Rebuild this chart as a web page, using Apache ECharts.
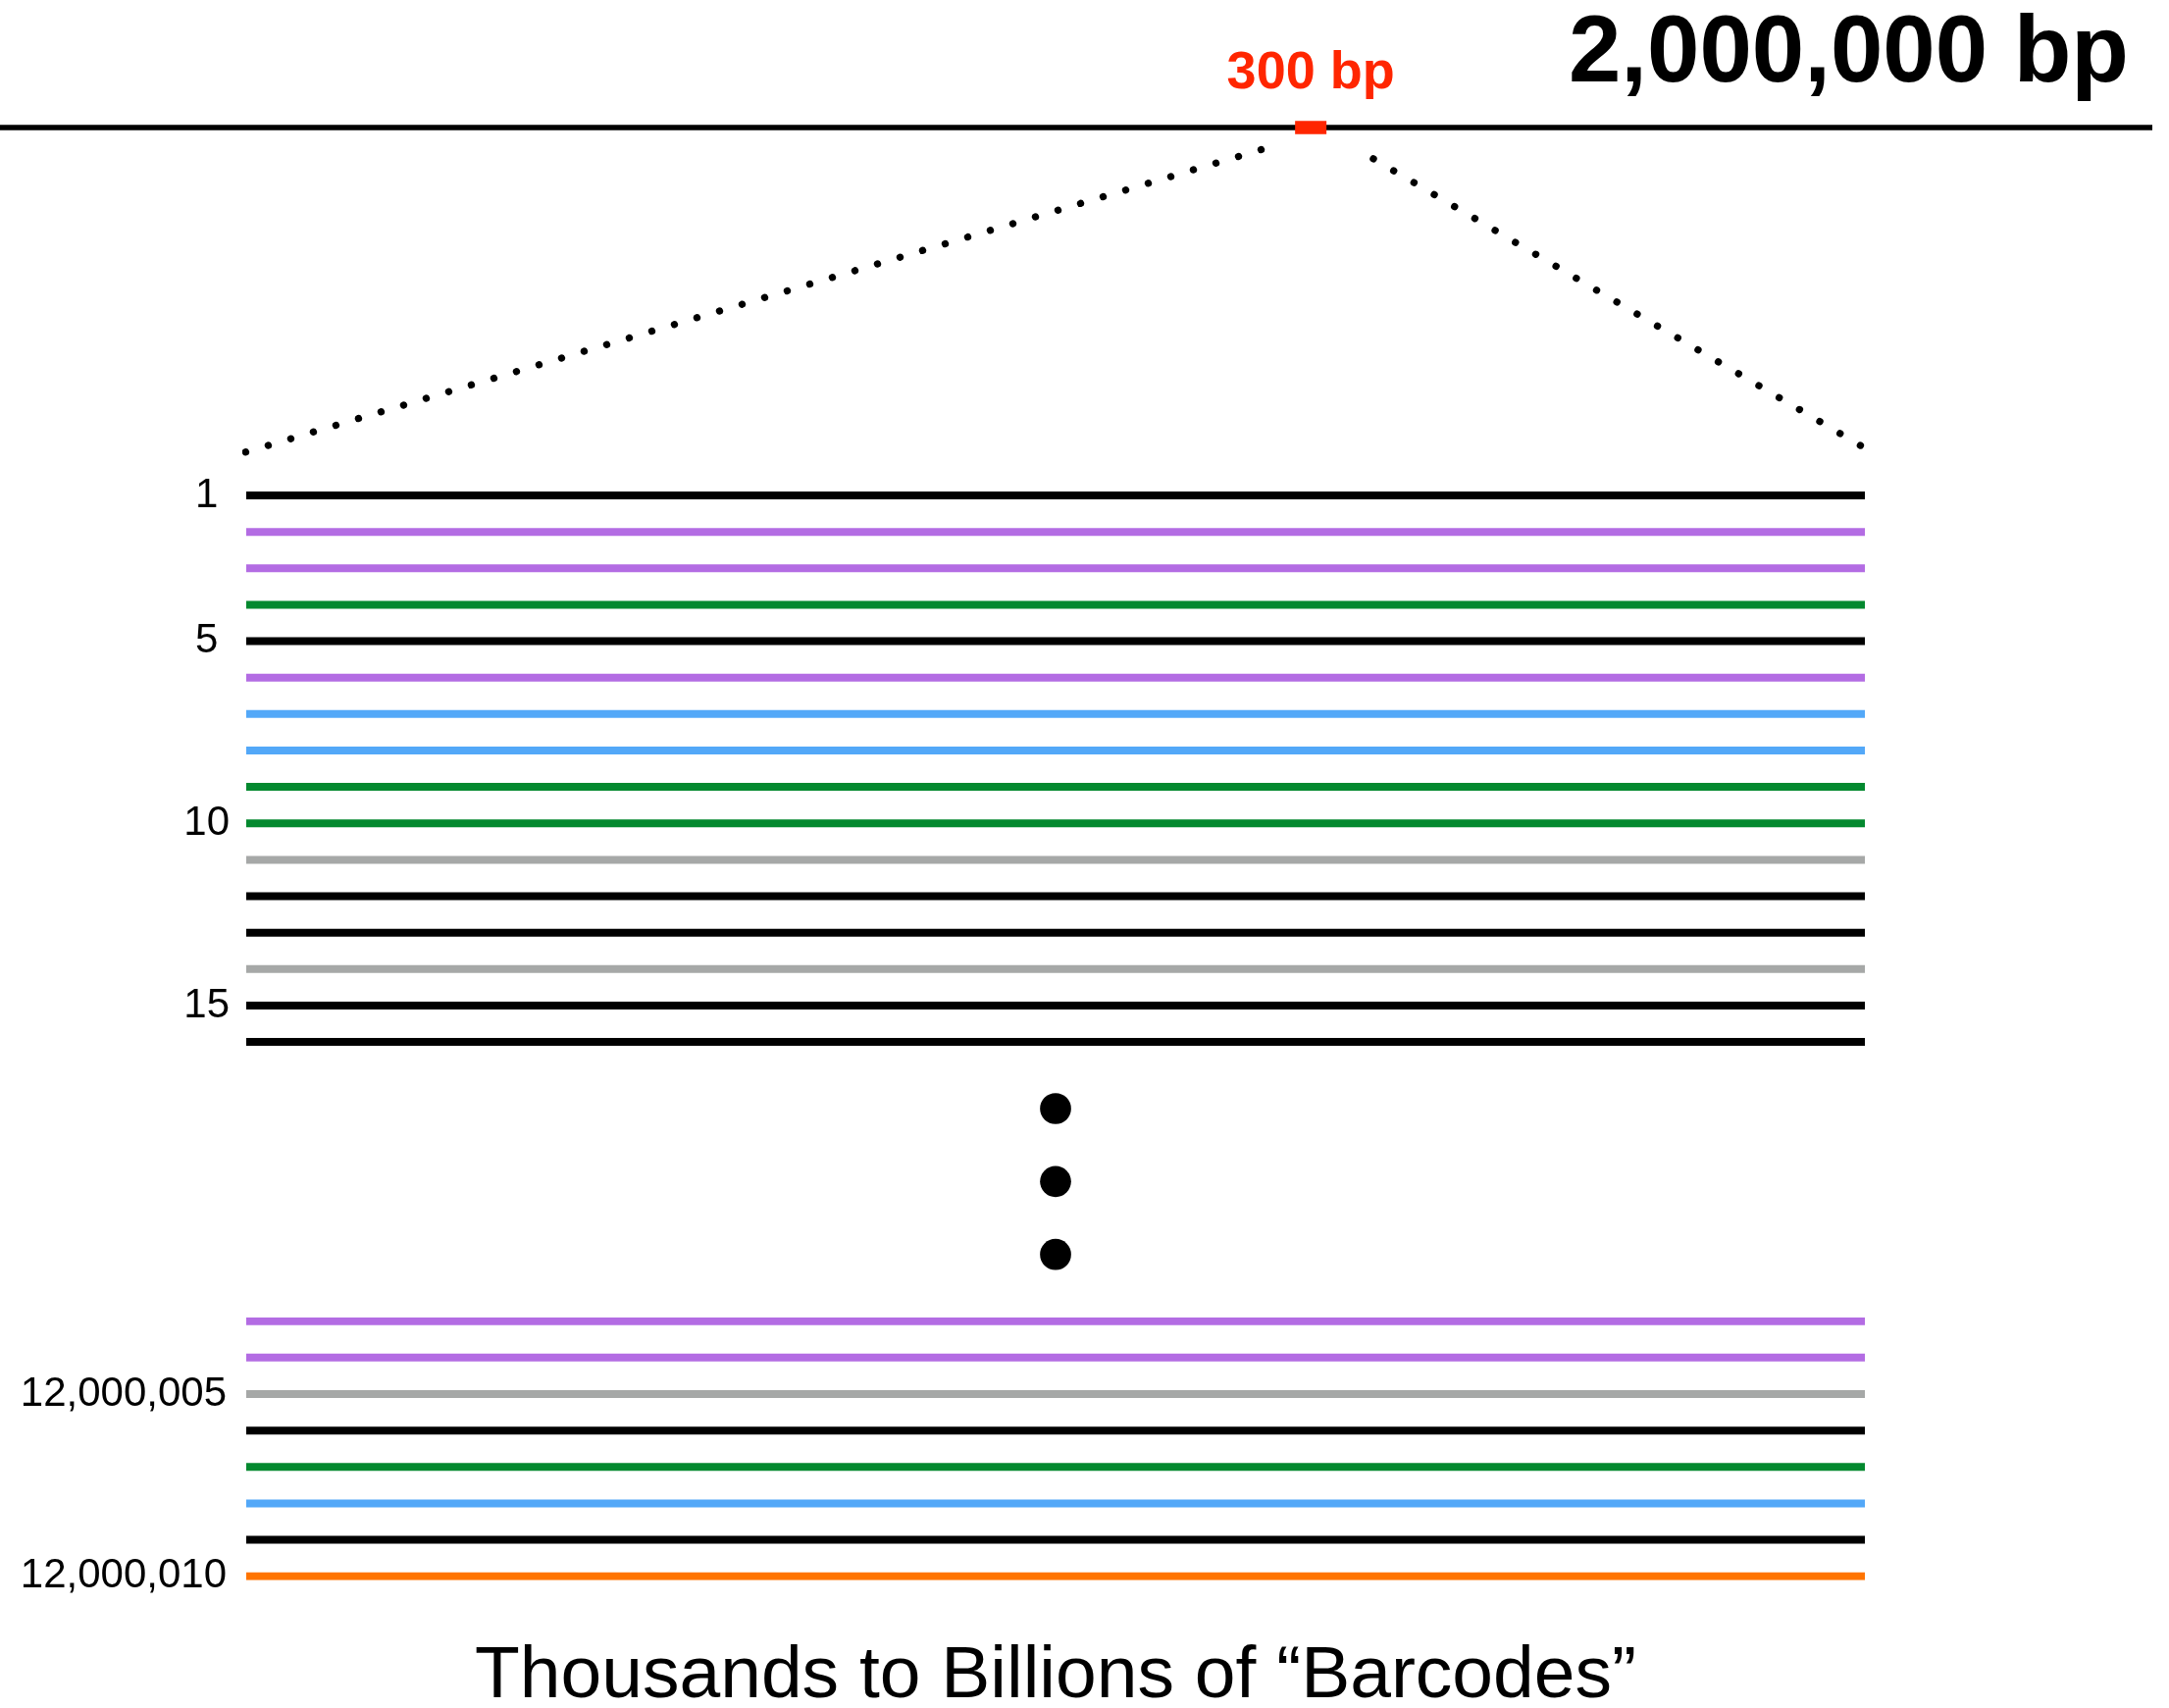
<!DOCTYPE html>
<html>
<head>
<meta charset="utf-8">
<script src="https://cdn.jsdelivr.net/npm/echarts@6/dist/echarts.min.js"></script>
<style>
  html, body { margin: 0; padding: 0; background: #fff; }
  #chart { width: 2211px; height: 1741px; }
</style>
</head>
<body>
<div id="chart"></div>
<script>
// ---------------- data ----------------
const genomeLengthBp = 2000000;
const genomeLabel = '2,000,000 bp';
const readLengthBp = 300;
const readCenterBp = 1218000;
const readLabel = '300 bp';

const topBarcodeIds = [1, 2, 3, 4, 5, 6, 7, 8, 9, 10, 11, 12, 13, 14, 15, 16];
const topBarcodeKinds = ['k', 'p', 'p', 'g', 'k', 'p', 'b', 'b', 'g', 'g', 's', 'k', 'k', 's', 'k', 'k'];
const topBarcodeTicks = [1, 5, 10, 15];

const bottomBarcodeIds = [12000003, 12000004, 12000005, 12000006, 12000007, 12000008, 12000009, 12000010];
const bottomBarcodeKinds = ['p', 'p', 's', 'k', 'g', 'b', 'k', 'o'];
const bottomBarcodeTicks = [12000005, 12000010];

const ellipsisSteps = [1, 2, 3];

// zoom connectors, in (read bp, barcode row) coordinates of the upper barcode panel
const zoomLeft = [[188.1, -8.49], [-0.3, -0.18]];
const zoomRight = [[208.9, -8.24], [299.2, -0.37]];

const captionText = 'Thousands to Billions of \u201CBarcodes\u201D';

// ---------------- styles ----------------
const palette = { k: '#000000', p: '#b36ce3', g: '#04892f', b: '#53a8f8', s: '#a6a8a7', o: '#ff7400' };
const red = '#ff2600';
const FONT = "'Liberation Sans', Arial, Helvetica, sans-serif";

const chart = echarts.init(document.getElementById('chart'), null, { renderer: 'canvas' });

const hiddenAxis = (gi, extra) => Object.assign({
  gridIndex: gi, type: 'value', show: true,
  axisLine: { show: false }, axisTick: { show: false },
  axisLabel: { show: false }, splitLine: { show: false }
}, extra || {});

const series = [];

// genome line
series.push({
  type: 'line', xAxisIndex: 0, yAxisIndex: 0, symbol: 'none', silent: true,
  data: [[0, 0.5], [genomeLengthBp, 0.5]],
  lineStyle: { color: '#000', width: 5.3, cap: 'butt', opacity: 1 }
});
// read marker
series.push({
  type: 'scatter', xAxisIndex: 0, yAxisIndex: 0, silent: true,
  symbol: 'rect', symbolSize: [32, 13.4],
  data: [[readCenterBp, 0.5]],
  itemStyle: { color: red, opacity: 1 },
  label: {
    show: true, position: 'top', distance: 21, formatter: readLabel,
    fontFamily: FONT, fontSize: 54, fontWeight: 'bold', color: red, lineHeight: 54, opacity: 1
  },
  z: 5
});

// top barcodes
topBarcodeIds.forEach((id, i) => {
  series.push({
    type: 'line', xAxisIndex: 1, yAxisIndex: 1, symbol: 'none', silent: true,
    data: [[0, id], [readLengthBp, id]],
    lineStyle: { color: palette[topBarcodeKinds[i]], width: 8, cap: 'butt', opacity: 1 }
  });
});

// zoom connectors
[zoomLeft, zoomRight].forEach(seg => {
  series.push({
    type: 'line', xAxisIndex: 1, yAxisIndex: 1, symbol: 'none', silent: true, clip: false,
    data: seg,
    lineStyle: { color: '#000', width: 7.3, type: [0.1, 23.9], cap: 'round', opacity: 1 }
  });
});

// ellipsis
series.push({
  type: 'scatter', xAxisIndex: 2, yAxisIndex: 2, silent: true,
  symbol: 'circle', symbolSize: 31.7,
  data: ellipsisSteps.map(s => [readLengthBp / 2, s]),
  itemStyle: { color: '#000', opacity: 1 }
});

// bottom barcodes
bottomBarcodeIds.forEach((id, i) => {
  series.push({
    type: 'line', xAxisIndex: 3, yAxisIndex: 3, symbol: 'none', silent: true,
    data: [[0, id], [readLengthBp, id]],
    lineStyle: { color: palette[bottomBarcodeKinds[i]], width: 8, cap: 'butt', opacity: 1 }
  });
});

const gridBase = { containLabel: false, outerBoundsMode: 'none', show: false };

chart.setOption({
  animation: false,
  backgroundColor: '#ffffff',
  title: {
    text: genomeLabel, right: 41, top: 9, padding: 0,
    textStyle: { fontFamily: FONT, fontSize: 96, fontWeight: 'bold', color: '#000', lineHeight: 96 }
  },
  grid: [
    Object.assign({ left: 0, right: 17, top: 100, height: 60 }, gridBase),
    Object.assign({ left: 251, right: 310, top: 505, height: 557.1 }, gridBase),
    Object.assign({ left: 251, right: 310, top: 1130, height: 148.7 }, gridBase),
    Object.assign({ left: 251, right: 310, top: 1346.7, height: 260 }, gridBase)
  ],
  xAxis: [
    hiddenAxis(0, { min: 0, max: genomeLengthBp }),
    hiddenAxis(1, { min: 0, max: readLengthBp }),
    hiddenAxis(2, { min: 0, max: readLengthBp }),
    hiddenAxis(3, {
      min: 0, max: readLengthBp,
      name: captionText, nameLocation: 'middle', nameGap: 65,
      nameTextStyle: { fontFamily: FONT, fontSize: 75, color: '#000', lineHeight: 75 }
    })
  ],
  yAxis: [
    hiddenAxis(0, { min: 0, max: 1 }),
    hiddenAxis(1, {
      min: 1, max: 16, interval: 1, inverse: true,
      axisLabel: {
        show: true, align: 'center', margin: 40.3,
        fontFamily: FONT, fontSize: 42, color: '#000',
        formatter: v => topBarcodeTicks.includes(v) ? String(v) : ''
      }
    }),
    hiddenAxis(2, { min: 1, max: 3, inverse: true }),
    hiddenAxis(3, {
      min: 12000003, max: 12000010, interval: 1, inverse: true,
      axisLabel: {
        show: true, align: 'right', margin: 20,
        fontFamily: FONT, fontSize: 42, color: '#000',
        formatter: v => bottomBarcodeTicks.includes(v) ? v.toLocaleString('en-US') : ''
      }
    })
  ],
  series: series
});
</script>
</body>
</html>
